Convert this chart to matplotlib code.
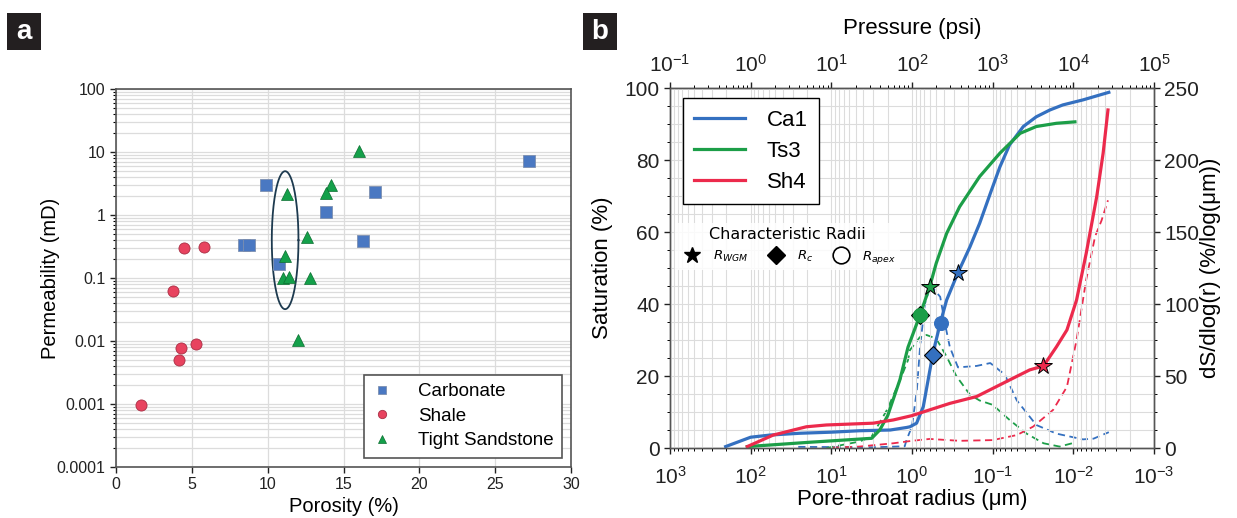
import matplotlib
matplotlib.use('Agg')
import matplotlib.pyplot as plt
import numpy as np
from matplotlib import rc
from matplotlib.lines import Line2D
from matplotlib.patches import Rectangle
from matplotlib.ticker import MultipleLocator, FuncFormatter, LogLocator, NullFormatter

rc('font', family=['Liberation Sans', 'DejaVu Sans'])
rc('mathtext', fontset='dejavusans')

# ---- panel a: porosity vs permeability ----
carb_phi = [9.9, 8.45, 8.8, 10.75, 13.85, 16.3, 17.05, 27.2]
carb_k = [3.0, 0.34, 0.34, 0.165, 1.12, 0.38, 2.3, 7.2]
shale_phi = [4.5, 5.8, 3.75, 4.3, 5.25, 4.15, 1.65]
shale_k = [0.30, 0.31, 0.063, 0.0078, 0.0089, 0.0049, 0.00098]
sand_phi = [16.0, 14.15, 13.87, 11.3, 12.6, 11.15, 11.0, 11.4, 12.8, 12.0]
sand_k = [10.2, 3.0, 2.2, 2.15, 0.45, 0.22, 0.10, 0.105, 0.10, 0.0105]

# ---- panel b: saturation curves (pore-throat radius in um) ----
ca1_r = [204, 100, 57.5, 24.5, 10, 4.47, 1.86, 1.17, 1.06, 0.877, 0.724, 0.631, 0.550,
         0.447, 0.372, 0.269, 0.191, 0.145, 0.107, 0.0813, 0.0617, 0.0417, 0.0288,
         0.0195, 0.0135, 0.00759, 0.00363]
ca1_s = [0.4, 3.0, 3.6, 4.1, 4.4, 4.8, 5.0, 5.7, 5.9, 6.9, 11.5, 18.9, 26.3, 34.6, 41.1,
         48.7, 55.9, 62.4, 70.7, 78.1, 84.2, 89.3, 92.0, 93.9, 95.3, 96.7, 98.8]
ts3_r = [110, 18.6, 3.16, 2.51, 2.0, 1.41, 1.12, 0.794, 0.603, 0.501, 0.372, 0.257,
         0.145, 0.0813, 0.0457, 0.0288, 0.0162, 0.00955]
ts3_s = [0.4, 1.6, 2.7, 5.0, 9.0, 19.0, 28.0, 37.0, 44.8, 51.3, 59.6, 67.0, 75.4, 81.9,
         87.4, 89.3, 90.2, 90.6]
sh4_r = [110, 52.5, 20.4, 11.5, 3.02, 1.70, 1.0, 0.603, 0.339, 0.158, 0.0617, 0.0347,
         0.0234, 0.0162, 0.0120, 0.00912, 0.00692, 0.00513, 0.00427, 0.00372]
sh4_s = [0.4, 3.6, 5.9, 6.4, 6.9, 7.8, 9.0, 10.6, 12.4, 14.3, 18.9, 21.7, 22.8, 28.1,
         32.8, 41.1, 54.1, 69.8, 81.9, 93.9]

# dS/dlog(r) curves (right axis)
ca1_dr = [25.7, 3.16, 1.23, 1.17, 1.0, 0.871, 0.794, 0.692, 0.589, 0.447, 0.389, 0.339,
          0.269, 0.158, 0.107, 0.0708, 0.0501, 0.0288, 0.0162, 0.00759, 0.00562, 0.00363]
ca1_d = [0.8, 0.5, 1.2, 5.5, 15, 40, 70, 100, 113, 105, 86, 70, 56, 57, 59, 51, 33, 16,
         10, 6, 6.5, 11]
ts3_dr = [11.5, 4.47, 3.16, 2.04, 1.41, 1.12, 1.06, 0.798, 0.661, 0.501, 0.372, 0.282,
          0.191, 0.145, 0.1, 0.0617, 0.038, 0.0234, 0.0148, 0.00955]
ts3_d = [0, 4.5, 8, 26.5, 47, 61, 68, 77, 78.5, 76, 63.5, 50, 37, 33, 30, 19.5, 10, 3.3,
         1, 3.8]
sh4_dr = [9.55, 4.47, 1.70, 1.0, 0.603, 0.257, 0.1, 0.0501, 0.0316, 0.0178, 0.012,
          0.00912, 0.00692, 0.00537, 0.00447, 0.00372]
sh4_d = [0.3, 1, 3.3, 5, 6.3, 5, 5.5, 9, 14.8, 26.5, 42.5, 75, 117, 147, 158, 172]

# characteristic radii (r, saturation)
star_pts = {'Ca1': (0.27, 48.7), 'Ts3': (0.60, 44.8), 'Sh4': (0.024, 22.8)}
diamond_pts = {'Ca1': (0.55, 25.8), 'Ts3': (0.80, 37.0)}
circle_pts = {'Ca1': (0.44, 34.6), 'Ts3': (0.80, 37.0)}

col = {'Ca1': '#3470c0', 'Ts3': '#1c9e48', 'Sh4': '#ec2a4c'}
grid_c = '#dcdcdc'
spine_c = '#555555'

fig = plt.figure(figsize=(12.37, 5.18), dpi=100)

# panel letters
for xl, letter in [(7, 'a'), (583, 'b')]:
    fig.add_artist(Rectangle((xl / 1237., 1 - 50 / 518.), 34 / 1237., 37 / 518.,
                             transform=fig.transFigure, facecolor='#231f20', edgecolor='none'))
    fig.text((xl + 17) / 1237., 1 - 32 / 518., letter, color='white', fontsize=20,
             fontweight='bold', ha='center', va='center')

# ================= panel a =================
axa = fig.add_axes([0.0938, 0.0985, 0.3678, 0.7297])
axa.set_yscale('log')
axa.plot(carb_phi, carb_k, 's', ms=8, color='#4a78c2', mec='#7d8fb0', mew=0.6,
         label='Carbonate', zorder=3)
axa.plot(shale_phi, shale_k, 'o', ms=8, color='#e8435f', mec='#a83045', mew=0.6,
         label='Shale', zorder=3)
axa.plot(sand_phi, sand_k, '^', ms=8.5, color='#14a04a', mec='#0b6e30', mew=0.5,
         label='Tight Sandstone', zorder=3)

# ellipse around the tight sandstone cluster
t = np.linspace(0, 2 * np.pi, 200)
axa.plot(11.15 + 0.88 * np.cos(t), 10 ** (-0.40 + 1.095 * np.sin(t)), color='#1d3a4f', lw=1.3)

axa.set_xlim(0, 30)
axa.set_ylim(1e-4, 100)
axa.xaxis.set_major_locator(MultipleLocator(5))
axa.yaxis.set_major_locator(LogLocator(base=10, numticks=10))
axa.yaxis.set_minor_locator(LogLocator(base=10, subs=np.arange(2, 10), numticks=20))
axa.yaxis.set_minor_formatter(NullFormatter())
axa.yaxis.set_major_formatter(FuncFormatter(lambda v, p: '%g' % v))
axa.grid(which='major', axis='x', color=grid_c, lw=0.9)
axa.grid(which='both', axis='y', color=grid_c, lw=0.9)
axa.set_axisbelow(True)
for s in axa.spines.values():
    s.set_color(spine_c)
    s.set_linewidth(1.2)
axa.tick_params(labelsize=11.5, colors='#222222', length=4, width=1)
axa.tick_params(which='minor', length=2.5, width=0.8)
axa.set_xlabel('Porosity (%)', fontsize=14.5, labelpad=3)
axa.set_ylabel('Permeability (mD)', fontsize=14.5)
axa.yaxis.set_label_coords(-0.123, 0.5)
leg = axa.legend(loc='lower right', bbox_to_anchor=(0.98, 0.024), borderaxespad=0,
                 fontsize=13.5, handlelength=1.0, handletextpad=1.4, borderpad=0.45,
                 labelspacing=0.4, fancybox=False, edgecolor=spine_c, framealpha=1,
                 markerscale=0.75)
leg.get_frame().set_linewidth(1.2)

# ================= panel b =================
axb = fig.add_axes([0.5416, 0.1351, 0.3913, 0.695])
axr = axb.twinx()
axb.set_zorder(axr.get_zorder() + 1)
axb.patch.set_visible(False)

axb.set_xscale('log')
axb.set_xlim(1e3, 1e-3)
axb.set_ylim(0, 100)
axr.set_ylim(0, 250)

for name, r, s in [('Ca1', ca1_r, ca1_s), ('Ts3', ts3_r, ts3_s), ('Sh4', sh4_r, sh4_s)]:
    axb.plot(r, s, color=col[name], lw=2.3, label=name, zorder=2)
for name, r, d in [('Ca1', ca1_dr, ca1_d), ('Ts3', ts3_dr, ts3_d), ('Sh4', sh4_dr, sh4_d)]:
    axr.plot(r, d, color=col[name], lw=1.3, ls=(0, (4, 2.5)))

for name, (r, s) in diamond_pts.items():
    axb.plot(r, s, 'D', ms=9, color=col[name], mec='k', mew=0.8, zorder=4)
for name, (r, s) in circle_pts.items():
    axb.plot(r, s, 'o', ms=10, color=col[name], mec=col[name], mew=0.8, zorder=5)
for name, (r, s) in star_pts.items():
    axb.plot(r, s, '*', ms=13, color=col[name], mec='k', mew=0.7, zorder=5)

axb.xaxis.set_major_locator(LogLocator(base=10, numticks=20))
axb.xaxis.set_minor_locator(LogLocator(base=10, subs=np.arange(2, 10), numticks=40))
axb.xaxis.set_minor_formatter(NullFormatter())
axb.yaxis.set_major_locator(MultipleLocator(20))
axb.yaxis.set_minor_locator(MultipleLocator(5))
axr.yaxis.set_major_locator(MultipleLocator(50))
axr.yaxis.set_minor_locator(MultipleLocator(12.5))
axb.grid(which='both', color=grid_c, lw=0.8)

# pressure axis on top
sec = axb.secondary_xaxis('top', functions=(lambda r: 100.0 / np.asarray(r, float),
                                            lambda p: 100.0 / np.asarray(p, float)))
sec.xaxis.set_major_locator(LogLocator(base=10, numticks=20))
sec.xaxis.set_minor_locator(LogLocator(base=10, subs=np.arange(2, 10), numticks=40))
sec.xaxis.set_minor_formatter(NullFormatter())
sec.set_xlabel('Pressure (psi)', fontsize=16, labelpad=14)
sec.tick_params(labelsize=15, length=4, width=1, colors='#222222', pad=5)
sec.tick_params(which='minor', length=2, width=0.7)

for a in (axb, axr):
    for s in a.spines.values():
        s.set_color(spine_c)
        s.set_linewidth(1.0)
    a.tick_params(labelsize=15, length=4, width=1, colors='#222222')
    a.tick_params(which='minor', length=2, width=0.7)
axb.tick_params(axis='x', pad=9)
sec.spines['top'].set_color(spine_c)

axb.set_xlabel('Pore-throat radius (μm)', fontsize=16, labelpad=1)
axb.set_ylabel('Saturation (%)', fontsize=16, labelpad=8)
axr.set_ylabel('dS/dlog(r) (%/log(μm))', fontsize=16, labelpad=0)

leg1 = axb.legend(loc='upper left', bbox_to_anchor=(0.026, 0.971), borderaxespad=0,
                  fontsize=16, handlelength=2.3, handletextpad=1.0, labelspacing=0.45,
                  borderpad=0.5, fancybox=False, edgecolor='k', framealpha=1)
leg1.get_frame().set_linewidth(1.0)
axb.add_artist(leg1)

radii_handles = [Line2D([], [], ls='', marker='*', ms=12, color='k'),
                 Line2D([], [], ls='', marker='D', ms=9, color='k'),
                 Line2D([], [], ls='', marker='o', ms=12, mfc='white', mec='k', mew=1.2)]
leg2 = axb.legend(radii_handles, [r'$R_{WGM}$', r'$R_{c}$', r'$R_{apex}$'], ncol=3,
                  loc='upper left', bbox_to_anchor=(0.01, 0.624), borderaxespad=0,
                  title='Characteristic Radii', prop={'family': 'DejaVu Sans', 'size': 9.5},
                  title_fontproperties={'family': 'DejaVu Sans', 'size': 11.5},
                  handletextpad=0.6, columnspacing=1.1, fancybox=False,
                  edgecolor='none', framealpha=0.85, borderpad=0.3)

fig.savefig('out.png', dpi=100)
